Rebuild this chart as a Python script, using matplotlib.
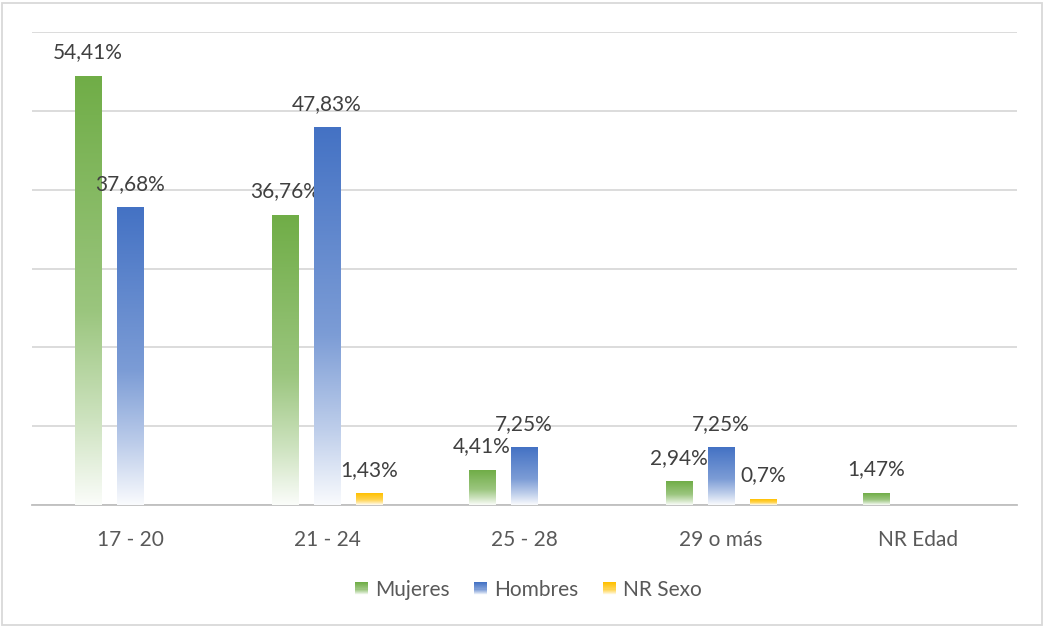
import numpy as np
import matplotlib.pyplot as plt
from matplotlib.colors import to_rgb
from matplotlib.patches import Rectangle
from matplotlib.legend_handler import HandlerBase

categories = ["17 - 20", "21 - 24", "25 - 28", "29 o más", "NR Edad"]
series = ["Mujeres", "Hombres", "NR Sexo"]
mujeres = [54.41, 36.76, 4.41, 2.94, 1.47]
hombres = [37.68, 47.83, 7.25, 7.25, None]
nr_sexo = [None, 1.43, None, 0.7, None]
colors = ["#70AD47", "#4472C4", "#FFC000"]

plt.rcParams["font.family"] = ["Lato", "DejaVu Sans"]


def grad_colors(color, n=256):
    c = np.array(to_rgb(color))
    t = np.linspace(0, 1, n)
    m = np.interp(t, [0, 0.55, 0.8, 1.0], [0, 0.3, 0.65, 0.97])[:, None]
    return c * (1 - m) + m


def gradient_bar(ax, rect, color):
    x, y = rect.get_x(), rect.get_y()
    w, h = rect.get_width(), rect.get_height()
    img = grad_colors(color)[:, None, :]
    ax.imshow(img, extent=[x, x + w, y, y + h], aspect="auto",
              origin="upper", zorder=3, interpolation="bilinear")
    rect.set_visible(False)


class GradHandler(HandlerBase):
    def create_artists(self, legend, orig_handle, xdescent, ydescent,
                       width, height, fontsize, trans):
        n = 12
        cols = grad_colors(orig_handle.get_facecolor(), n)
        s = 9.5
        x0 = -xdescent + (width - s) / 2
        y0 = -ydescent + (height - s) / 2
        arts = []
        for i in range(n):
            r = Rectangle((x0, y0 + s * (n - 1 - i) / n), s, s / n + 0.2,
                          facecolor=cols[i], edgecolor="none", transform=trans)
            arts.append(r)
        return arts


fig = plt.figure(figsize=(10.45, 6.27), dpi=100)
ax = fig.add_axes([31.5 / 1045, 1 - 505 / 627, 985 / 1045, 473 / 627])

x = np.arange(len(categories))
bw = 0.132
off = 0.213
handles = []
for k, (vals, col, name) in enumerate(zip([mujeres, hombres, nr_sexo], colors, series)):
    xs = [xi + (k - 1) * off for xi, v in zip(x, vals) if v is not None]
    vs = [v for v in vals if v is not None]
    bars = ax.bar(xs, vs, width=bw, color=col, label=name)
    for rect, v in zip(bars, vs):
        gradient_bar(ax, rect, col)
        ax.annotate(f"{v:g}".replace(".", ",") + "%",
                    (rect.get_x() + rect.get_width() / 2, v),
                    xytext=(0, 10), textcoords="offset points",
                    ha="center", va="bottom", fontsize=15, color="#404040")
    handles.append(Rectangle((0, 0), 1, 1, facecolor=col))

ax.set_xlim(-0.5, len(categories) - 0.5)
ax.set_ylim(0, 60)
ax.set_yticks(np.arange(0, 61, 10))
ax.set_yticklabels([])
ax.tick_params(axis="y", length=0)
ax.yaxis.grid(True, color="#D9D9D9", linewidth=1.3)
ax.set_axisbelow(True)
ax.set_xticks(x)
ax.set_xticklabels(categories, fontsize=15, color="#595959")
ax.tick_params(axis="x", length=0, pad=18)
for s in ["top", "right", "left"]:
    ax.spines[s].set_visible(False)
ax.spines["bottom"].set_color("#BFBFBF")
ax.spines["bottom"].set_linewidth(1.3)

fig.legend(handles, series, loc="center", bbox_to_anchor=(528 / 1045, 1 - 590 / 627),
           ncol=3, frameon=False, fontsize=15, labelcolor="#595959",
           handler_map={Rectangle: GradHandler()}, handlelength=0.7,
           handletextpad=0.3, columnspacing=1.15)

fig.patches.append(Rectangle((2 / 1045, 2 / 627), 1040 / 1045, 622 / 627,
                             transform=fig.transFigure, fill=False,
                             edgecolor="#D9D9D9", linewidth=1.3))

fig.savefig("out.png", dpi=100)
